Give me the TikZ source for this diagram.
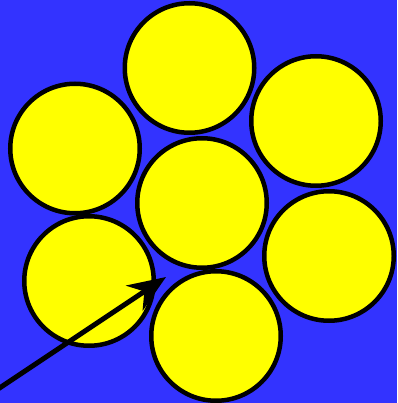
\documentclass[tikz,border=0pt]{standalone}
\usetikzlibrary{arrows.meta}
\definecolor{bgblue}{RGB}{51,51,255}
\definecolor{discyellow}{RGB}{255,255,0}
\begin{document}
\begin{tikzpicture}[x=1pt, y=-1pt,
    disc/.style={circle, draw=black, line width=4.5pt, fill=discyellow, minimum size=129.5pt, inner sep=0pt}]
    \fill[bgblue] (0,0) rectangle (397,403);
    \useasboundingbox (0,0) rectangle (397,403);
    
    % hexagonal packing of seven discs
    \node[disc] (top) at (189.5, 68) {};
    \node[disc] (upright) at (316, 121) {};
    \node[disc] (upleft) at (75, 148.5) {};
    \node[disc] (mid) at (202, 203) {};
    \node[disc] (lowright) at (329, 256) {};
    \node[disc] (lowleft) at (89, 281) {};
    \node[disc] (bottom) at (216, 336) {};
    
    % arrow into the gap
    \coordinate (start) at (-2, 389);
    \coordinate (gap) at (166, 277);
    \draw[line width=5pt, -{Stealth[length=38pt, width=30pt, inset=12pt]}] (start) -- (gap);
    
\end{tikzpicture}
\end{document}
